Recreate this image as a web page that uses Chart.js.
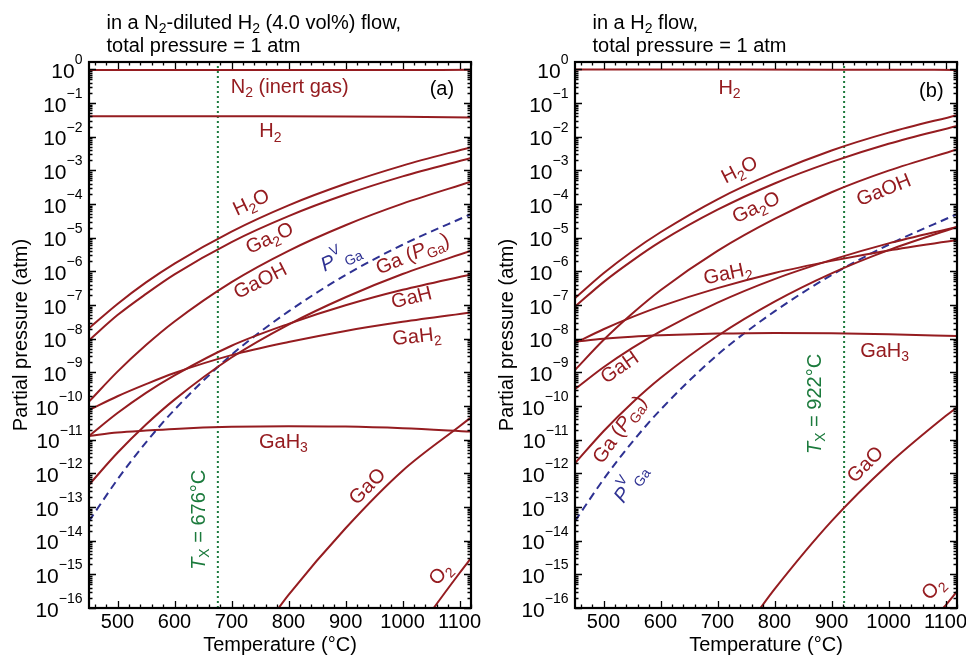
<!DOCTYPE html>
<html lang="en">
<head>
<meta charset="UTF-8">
<title>Partial pressures of Ga species</title>
<style>
  body { margin: 0; background: #fff; }
  .wrap { position: relative; width: 966px; height: 658px; }
  .panel { position: absolute; top: 0; width: 483px; height: 658px; }
  #panelA { left: 0; }
  #panelB { left: 483px; }
</style>
</head>
<body>
<div class="wrap">
  <div class="panel" id="panelA"><canvas id="chartA" width="483" height="658"></canvas></div>
  <div class="panel" id="panelB"><canvas id="chartB" width="483" height="658"></canvas></div>
</div>
<script src="https://cdn.jsdelivr.net/npm/chart.js"></script>
<script>
// temperatures (°C) where the curves were read
const temps = [450, 500, 550, 600, 700, 800, 900, 1000, 1120];
const flatTemps = [450, 700, 900, 1000, 1120];

// all curve values are log10(partial pressure / atm), except the carrier gases

// (a) N2-diluted H2 (4.0 vol%)
const aN2   = [0.96, 0.96, 0.96, 0.961, 0.963];
const aH2   = [0.0403, 0.0403, 0.0400, 0.0390, 0.0370];
const aH2O  = [-7.69, -6.97, -6.33, -5.77, -4.82, -4.04, -3.40, -2.86, -2.31];
const aGa2O = [-8.05, -7.30, -6.67, -6.09, -5.13, -4.36, -3.72, -3.18, -2.63];
const aGaOH = [-9.87, -8.98, -8.19, -7.49, -6.32, -5.39, -4.63, -3.99, -3.34];
const aGa   = [-12.34, -11.39, -10.55, -9.81, -8.56, -7.58, -6.77, -6.08, -5.39];
const aGaH  = [-10.89, -10.21, -9.61, -9.09, -8.21, -7.56, -7.01, -6.55, -6.09];
const aGaH2 = [-10.12, -9.71, -9.35, -9.02, -8.49, -8.10, -7.77, -7.50, -7.22];
const aGaH3 = [-10.89, -10.79, -10.73, -10.68, -10.62, -10.60, -10.61, -10.66, -10.76];
const aGaOTemps = [770, 800, 900, 1000, 1100, 1120];
const aGaO  = [-16.29, -15.61, -13.63, -11.92, -10.60, -10.34];
const aO2Temps = [1040, 1050, 1100, 1120];
const aO2   = [-16.36, -16.11, -14.96, -14.52];
const aTx = 676;

// vapour pressure of liquid Ga (same in both panels)
const pvGa  = [-13.42, -12.18, -11.08, -10.11, -8.48, -7.19, -6.11, -5.21, -4.30];

// (b) pure H2
const bH2   = [0.98, 0.98, 0.975, 0.97, 0.96];
const bH2O  = [-6.80, -6.06, -5.41, -4.84, -3.86, -3.07, -2.41, -1.88, -1.36];
const bGa2O = [-7.05, -6.32, -5.69, -5.12, -4.17, -3.39, -2.75, -2.21, -1.68];
const bGaOH = [-8.93, -8.04, -7.26, -6.56, -5.39, -4.44, -3.65, -3.01, -2.38];
const bGa   = [-11.70, -10.75, -9.91, -9.17, -7.92, -6.90, -6.06, -5.37, -4.68];
const bGaH  = [-9.50, -8.85, -8.28, -7.78, -6.93, -6.23, -5.66, -5.17, -4.68];
const bGaH2 = [-8.13, -7.72, -7.36, -7.04, -6.50, -6.05, -5.69, -5.38, -5.07];
const bGaH3 = [-8.09, -8.00, -7.94, -7.90, -7.85, -7.83, -7.84, -7.87, -7.92];
const bGaOTemps = [770, 800, 900, 1000, 1100, 1120];
const bGaO  = [-16.12, -15.44, -13.42, -11.73, -10.30, -10.04];
const bO2Temps = [1085, 1090, 1100, 1120];
const bO2   = [-16.23, -16.12, -15.92, -15.51];
const bTx = 922;

const xTicks = [500, 600, 700, 800, 900, 1000, 1100];
const yExps = [0, -1, -2, -3, -4, -5, -6, -7, -8, -9, -10, -11, -12, -13, -14, -15, -16];

const RED = '#951c20', BLUE = '#2e3192', GREEN = '#1b7a3c';
const FONT = '"Liberation Sans", Arial, Helvetica, sans-serif';
const YMIN = 1e-16, YMAX = 1.65;

function logCurve(ts, vals, color, dash) {
  return {
    data: ts.map((t, i) => ({ x: t, y: Math.pow(10, vals[i]) })),
    borderColor: color || RED,
    borderWidth: 2,
    borderDash: dash || [],
    pointRadius: 0,
    cubicInterpolationMode: 'monotone',
    fill: false
  };
}
function linCurve(ts, vals) {
  return {
    data: ts.map((t, i) => ({ x: t, y: vals[i] })),
    borderColor: RED, borderWidth: 2, pointRadius: 0,
    cubicInterpolationMode: 'monotone', fill: false
  };
}
function txLine(t) {
  return {
    data: [{ x: t, y: YMIN }, { x: t, y: YMAX }],
    borderColor: GREEN, borderWidth: 2, borderDash: [2, 3],
    pointRadius: 0, fill: false
  };
}

// text with _{sub}, ^{sup} and *{italic} parts
function rich(ctx, str, x, y, size, color, align) {
  const segs = [];
  str.replace(/([_^*])\{([^}]*)\}|([^_^*]+)/g, (m, k, inner, plain) => {
    segs.push(plain !== undefined ? { t: plain, k: '' } : { t: inner, k: k });
    return '';
  });
  let w = 0;
  segs.forEach(s => {
    s.size = (s.k === '_' || s.k === '^') ? size * 0.7 : size;
    s.font = (s.k === '*' ? 'italic ' : '') + s.size + 'px ' + FONT;
    ctx.font = s.font;
    s.w = ctx.measureText(s.t).width;
    w += s.w;
  });
  let cx = align === 'left' ? x : align === 'right' ? x - w : x - w / 2;
  ctx.fillStyle = color;
  ctx.textAlign = 'left';
  ctx.textBaseline = 'middle';
  segs.forEach(s => {
    ctx.font = s.font;
    const dy = s.k === '_' ? size * 0.32 : s.k === '^' ? -size * 0.45 : 0;
    ctx.fillText(s.t, cx, y + dy);
    cx += s.w;
  });
}

const decor = {
  id: 'decor',
  afterDraw(chart, args, o) {
    const { ctx, chartArea: a } = chart;
    const x = chart.scales.x, y = chart.scales.y;
    ctx.save();
    // inward ticks on all four sides
    ctx.strokeStyle = '#000';
    ctx.lineWidth = 1.3;
    ctx.beginPath();
    for (let t = 460; t <= 1120; t += 20) {
      const px = Math.round(x.getPixelForValue(t)) + 0.5;
      const len = t % 100 === 0 ? 7 : 3.5;
      ctx.moveTo(px, a.bottom); ctx.lineTo(px, a.bottom - len);
      ctx.moveTo(px, a.top); ctx.lineTo(px, a.top + len);
    }
    for (const e of yExps) {
      for (let k = 1; k <= 9; k++) {
        const v = k * Math.pow(10, e);
        if (v > YMAX) break;
        const py = Math.round(y.getPixelForValue(v)) + 0.5;
        const len = k === 1 ? 7 : 3.5;
        ctx.moveTo(a.left, py); ctx.lineTo(a.left + len, py);
        ctx.moveTo(a.right, py); ctx.lineTo(a.right - len, py);
      }
    }
    ctx.stroke();
    ctx.lineWidth = 2.2;
    ctx.strokeRect(a.left, a.top, a.right - a.left, a.bottom - a.top);

    // tick labels
    ctx.fillStyle = '#000';
    ctx.font = '20px ' + FONT;
    ctx.textAlign = 'center';
    ctx.textBaseline = 'middle';
    xTicks.forEach(t => ctx.fillText(String(t), x.getPixelForValue(t), a.bottom + 14));
    yExps.forEach(e => {
      const py = y.getPixelForValue(Math.pow(10, e));
      const ex = e === 0 ? '0' : '\u2212' + (-e);
      ctx.font = '14px ' + FONT;
      ctx.textAlign = 'right';
      const exW = ctx.measureText(ex).width;
      ctx.fillText(ex, a.left - 6.5, py - 9);
      ctx.font = '21px ' + FONT;
      ctx.fillText('10', a.left - 6.5 - exW, py + 3);
    });

    // axis titles
    ctx.font = '20px ' + FONT;
    ctx.textAlign = 'center';
    ctx.fillText('Temperature (\u00b0C)', (a.left + a.right) / 2, a.bottom + 37);
    ctx.save();
    ctx.translate(a.left - 68, (a.top + a.bottom) / 2);
    ctx.rotate(-Math.PI / 2);
    ctx.fillText('Partial pressure (atm)', 0, 0);
    ctx.restore();

    // panel heading
    o.title.forEach((line, i) => rich(ctx, line, a.left + 17.5, 23 + i * 23, 20, '#000', 'left'));

    // curve labels
    o.labels.forEach(l => {
      ctx.save();
      ctx.translate(x.getPixelForValue(l.x), y.getPixelForValue(Math.pow(10, l.y)));
      ctx.rotate(-(l.r || 0) * Math.PI / 180);
      rich(ctx, l.t, 0, 0, 20, l.c || RED, 'center');
      ctx.restore();
    });
    ctx.restore();
  }
};

function makeChart(id, datasets, leftW, rightPad, title, labels) {
  return new Chart(document.getElementById(id), {
    type: 'line',
    data: { datasets: datasets },
    options: {
      responsive: false,
      animation: false,
      devicePixelRatio: 1,
      layout: { padding: { top: 62, right: rightPad, left: 0, bottom: 0 } },
      plugins: {
        legend: { display: false },
        tooltip: { enabled: false },
        decor: { title: title, labels: labels }
      },
      scales: {
        x: {
          type: 'linear', min: 450, max: 1120,
          grid: { display: false }, border: { display: false },
          ticks: { display: false },
          afterFit: s => { s.height = 50; }
        },
        y: {
          type: 'logarithmic', min: YMIN, max: YMAX,
          grid: { display: false }, border: { display: false },
          ticks: { display: false },
          afterFit: s => { s.width = leftW; }
        }
      }
    },
    plugins: [decor]
  });
}

makeChart('chartA', [
  linCurve(flatTemps, aN2),
  linCurve(flatTemps, aH2),
  logCurve(temps, aH2O),
  logCurve(temps, aGa2O),
  logCurve(temps, aGaOH),
  logCurve(temps, aGa),
  logCurve(temps, aGaH),
  logCurve(temps, aGaH2),
  logCurve(temps, aGaH3),
  logCurve(aGaOTemps, aGaO),
  logCurve(aO2Temps, aO2),
  logCurve(temps, pvGa, BLUE, [8, 5]),
  txLine(aTx)
], 89, 12, ['in a N_{2}-diluted H_{2} (4.0 vol%) flow,', 'total pressure = 1 atm'], [
  { t: 'N_{2} (inert gas)', x: 802, y: -0.53 },
  { t: '(a)', x: 1069, y: -0.59, c: '#000' },
  { t: 'H_{2}', x: 768, y: -1.86 },
  { t: 'H_{2}O', x: 735, y: -3.97, r: 25 },
  { t: 'Ga_{2}O', x: 767, y: -5.03, r: 25 },
  { t: 'GaOH', x: 751, y: -6.3, r: 27 },
  { t: '*{P}^{V}_{Ga}', x: 892, y: -5.6, r: 25, c: BLUE },
  { t: 'Ga (*{P}_{Ga})', x: 1018, y: -5.5, r: 23 },
  { t: 'GaH', x: 1016, y: -6.8, r: 14 },
  { t: 'GaH_{2}', x: 1025, y: -7.95, r: 6 },
  { t: 'GaH_{3}', x: 791, y: -11.07 },
  { t: 'GaO', x: 939, y: -12.4, r: 45 },
  { t: 'O_{2}', x: 1067, y: -14.99, r: 45 },
  { t: '*{T}_{X} = 676\u00b0C', x: 643, y: -13.38, r: 90, c: GREEN }
]);

makeChart('chartB', [
  linCurve(flatTemps, bH2),
  logCurve(temps, bH2O),
  logCurve(temps, bGa2O),
  logCurve(temps, bGaOH),
  logCurve(temps, bGa),
  logCurve(temps, bGaH),
  logCurve(temps, bGaH2),
  logCurve(temps, bGaH3),
  logCurve(bGaOTemps, bGaO),
  logCurve(bO2Temps, bO2),
  logCurve(temps, pvGa, BLUE, [8, 5]),
  txLine(bTx)
], 92, 9, ['in a H_{2} flow,', 'total pressure = 1 atm'], [
  { t: 'H_{2}', x: 721, y: -0.56 },
  { t: '(b)', x: 1075, y: -0.65, c: '#000' },
  { t: 'H_{2}O', x: 739, y: -3.0, r: 27 },
  { t: 'Ga_{2}O', x: 768, y: -4.12, r: 25 },
  { t: 'GaOH', x: 992, y: -3.6, r: 22 },
  { t: 'GaH_{2}', x: 718, y: -6.08, r: 12 },
  { t: 'GaH', x: 529, y: -8.87, r: 35 },
  { t: 'Ga (*{P}_{Ga})', x: 529, y: -10.71, r: 55 },
  { t: '*{P}^{V}_{Ga}', x: 548, y: -12.31, r: 55, c: BLUE },
  { t: 'GaH_{3}', x: 993, y: -8.37 },
  { t: '*{T}_{X} = 922\u00b0C', x: 871, y: -9.94, r: 90, c: GREEN },
  { t: 'GaO', x: 960, y: -11.75, r: 45 },
  { t: 'O_{2}', x: 1079, y: -15.43, r: 45 }
]);
</script>
</body>
</html>
